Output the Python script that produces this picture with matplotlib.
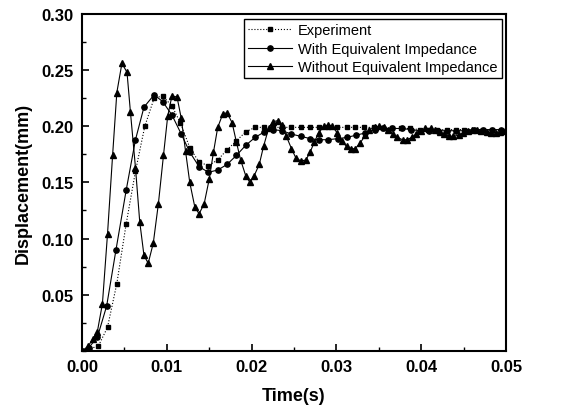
import matplotlib
matplotlib.use("Agg")
import matplotlib.pyplot as plt
from matplotlib.ticker import MultipleLocator, FixedLocator

plt.rcParams['font.family'] = ['Liberation Sans', 'DejaVu Sans']

# Experiment (squares, dotted)
t_exp = [0.0000, 0.0008, 0.0019, 0.0030, 0.0041, 0.0052, 0.0063, 0.0074, 0.0085, 0.0095,
         0.0106, 0.0116, 0.0127, 0.0138, 0.0149, 0.0160, 0.0171, 0.0182, 0.0193, 0.0204,
         0.0214, 0.0225, 0.0236, 0.0247, 0.0258, 0.0269, 0.0279, 0.0290, 0.0301, 0.0312,
         0.0322, 0.0333, 0.0344, 0.0355, 0.0365, 0.0376, 0.0387, 0.0398, 0.0408, 0.0419,
         0.0430, 0.0441, 0.0451, 0.0462, 0.0473, 0.0484, 0.0494]
d_exp = [0.000, 0.002, 0.004, 0.021, 0.060, 0.113, 0.160, 0.200, 0.225, 0.227,
         0.218, 0.203, 0.181, 0.168, 0.165, 0.170, 0.179, 0.187, 0.195, 0.199,
         0.199, 0.199, 0.199, 0.199, 0.199, 0.199, 0.199, 0.199, 0.199, 0.199,
         0.199, 0.199, 0.199, 0.198, 0.198, 0.198, 0.198, 0.197, 0.197, 0.197,
         0.197, 0.197, 0.197, 0.197, 0.197, 0.197, 0.196]

# With Equivalent Impedance (circles, solid)
t_with = [0.0000, 0.0008, 0.0018, 0.0029, 0.0040, 0.0052, 0.0063, 0.0073, 0.0085, 0.0095,
          0.0106, 0.0117, 0.0127, 0.0138, 0.0149, 0.0160, 0.0171, 0.0182, 0.0193, 0.0204,
          0.0215, 0.0225, 0.0236, 0.0247, 0.0258, 0.0269, 0.0279, 0.0290, 0.0302, 0.0312,
          0.0323, 0.0334, 0.0345, 0.0355, 0.0366, 0.0377, 0.0388, 0.0398, 0.0409, 0.0420,
          0.0430, 0.0441, 0.0452, 0.0462, 0.0473, 0.0484, 0.0494]
d_with = [0.000, 0.003, 0.012, 0.040, 0.090, 0.143, 0.188, 0.217, 0.228, 0.222,
          0.210, 0.193, 0.177, 0.164, 0.159, 0.161, 0.166, 0.174, 0.183, 0.190,
          0.195, 0.197, 0.196, 0.193, 0.191, 0.189, 0.188, 0.188, 0.189, 0.190,
          0.192, 0.194, 0.197, 0.198, 0.198, 0.198, 0.197, 0.196, 0.196, 0.196,
          0.196, 0.196, 0.196, 0.197, 0.197, 0.197, 0.197]

# Without Equivalent Impedance (triangles, solid)
t_wo = [0.0000, 0.0007, 0.0013, 0.0018, 0.0024, 0.0030, 0.0036, 0.0041, 0.0047, 0.0053,
        0.0057, 0.0063, 0.0068, 0.0073, 0.0078, 0.0084, 0.0090, 0.0096, 0.0101, 0.0106,
        0.0112, 0.0117, 0.0122, 0.0127, 0.0133, 0.0138, 0.0144, 0.0150, 0.0155, 0.0160,
        0.0166, 0.0171, 0.0177, 0.0182, 0.0187, 0.0193, 0.0198, 0.0203, 0.0209, 0.0214,
        0.0220, 0.0225, 0.0231, 0.0236, 0.0241, 0.0247, 0.0252, 0.0258, 0.0264, 0.0269,
        0.0274, 0.0279, 0.0285, 0.0290, 0.0295, 0.0301, 0.0306, 0.0312, 0.0317, 0.0322,
        0.0328, 0.0334, 0.0339, 0.0345, 0.0350, 0.0356, 0.0361, 0.0367, 0.0372, 0.0378,
        0.0383, 0.0389, 0.0394, 0.0400, 0.0405, 0.0411, 0.0416, 0.0422, 0.0427, 0.0433,
        0.0438, 0.0444, 0.0449, 0.0455, 0.0460, 0.0466, 0.0471, 0.0477, 0.0482, 0.0488,
        0.0493, 0.0499]
d_wo = [0.000, 0.004, 0.011, 0.017, 0.042, 0.104, 0.174, 0.230, 0.256, 0.248,
        0.213, 0.163, 0.115, 0.085, 0.078, 0.096, 0.131, 0.174, 0.209, 0.227,
        0.226, 0.207, 0.178, 0.150, 0.128, 0.122, 0.131, 0.153, 0.177, 0.199,
        0.211, 0.212, 0.203, 0.186, 0.170, 0.156, 0.150, 0.156, 0.166, 0.182,
        0.198, 0.204, 0.205, 0.201, 0.191, 0.180, 0.172, 0.169, 0.170, 0.177,
        0.186, 0.194, 0.200, 0.201, 0.200, 0.194, 0.187, 0.182, 0.180, 0.180,
        0.185, 0.192, 0.197, 0.199, 0.200, 0.199, 0.197, 0.193, 0.190, 0.188,
        0.188, 0.190, 0.193, 0.196, 0.198, 0.198, 0.197, 0.195, 0.193, 0.191,
        0.191, 0.192, 0.194, 0.196, 0.197, 0.197, 0.196, 0.195, 0.194, 0.194,
        0.195, 0.196]

labels = ["Experiment", "With Equivalent Impedance", "Without Equivalent Impedance"]
x_ticks = [0.00, 0.01, 0.02, 0.03, 0.04, 0.05]
y_ticks = [0.05, 0.10, 0.15, 0.20, 0.25, 0.30]

fig = plt.figure(figsize=(5.66, 4.14), dpi=100)
ax = fig.add_axes([0.145, 0.150, 0.749, 0.814])

lw = 0.8
ax.plot(t_exp, d_exp, color='black', linestyle=':', linewidth=lw, marker='s',
        markersize=3.5, label=labels[0])
ax.plot(t_with, d_with, color='black', linestyle='-', linewidth=lw, marker='o',
        markersize=3.8, label=labels[1])
ax.plot(t_wo, d_wo, color='black', linestyle='-', linewidth=lw, marker='^',
        markersize=4.4, label=labels[2])

ax.set_xlim(0, 0.05)
ax.set_ylim(0, 0.30)
ax.xaxis.set_major_locator(FixedLocator(x_ticks))
ax.yaxis.set_major_locator(FixedLocator(y_ticks))
ax.xaxis.set_minor_locator(MultipleLocator(0.005))
ax.yaxis.set_minor_locator(MultipleLocator(0.025))
ax.set_xticklabels([f"{v:.2f}" for v in x_ticks])
ax.set_yticklabels([f"{v:.2f}" for v in y_ticks])

ax.tick_params(which='major', direction='in', length=5, width=1.2,
               labelsize=12, pad=6)
ax.tick_params(which='minor', direction='in', length=3, width=1.0)
for lab in ax.get_xticklabels() + ax.get_yticklabels():
    lab.set_fontweight('bold')
for s in ax.spines.values():
    s.set_linewidth(1.5)

ax.set_xlabel("Time(s)", fontsize=13, fontweight='bold', labelpad=9)
ax.set_ylabel("Displacement(mm)", fontsize=13, fontweight='bold', labelpad=7)

leg = ax.legend(loc='upper right', bbox_to_anchor=(0.99, 0.985), fontsize=10.5,
                frameon=True, fancybox=False, edgecolor='black', framealpha=1,
                handlelength=3.0, numpoints=1, borderpad=0.3, labelspacing=0.3,
                handletextpad=0.4, borderaxespad=0.0)
leg.get_frame().set_linewidth(1.0)

fig.savefig("out.png", dpi=100)
